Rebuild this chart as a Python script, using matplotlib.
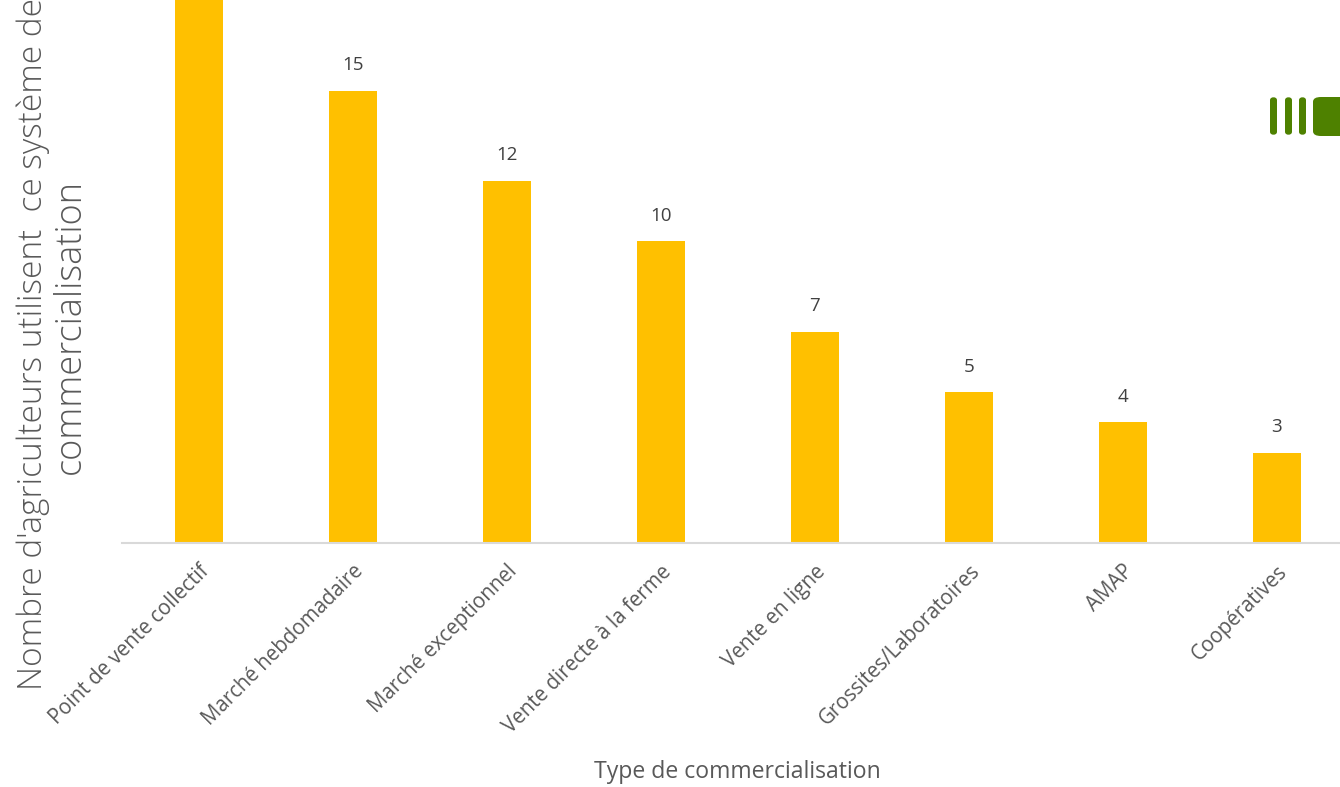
import matplotlib
matplotlib.use("Agg")
import matplotlib.pyplot as plt
from matplotlib.patches import FancyBboxPatch

categories = ["Point de vente collectif", "Marché hebdomadaire", "Marché exceptionnel",
              "Vente directe à la ferme", "Vente en ligne", "Grossites/Laboratoires",
              "AMAP", "Coopératives"]
values = [18, 15, 12, 10, 7, 5, 4, 3]
ylabel_lines = ["Nombre d'agriculteurs utilisent  ce système de", "commercialisation"]

W, H = 1340, 787
fig = plt.figure(figsize=(W / 100, H / 100), dpi=100)
ax = fig.add_axes([122 / W, (H - 543) / H, 1232 / W, 543 / H])

x = list(range(len(categories)))
ax.bar(x, values, width=0.31, color="#FFC000", zorder=2)
ax.set_xlim(-0.5, len(categories) - 0.5)
ax.set_ylim(0, 18)

for xi, v in zip(x, values):
    ax.annotate(str(v), (xi, v), xytext=(0, 12), textcoords="offset points",
                ha="center", va="bottom", fontsize=13.5, color="#404040",
                family="Open Sans")

for s in ["top", "right", "left"]:
    ax.spines[s].set_visible(False)
ax.spines["bottom"].set_color("#D9D9D9")
ax.spines["bottom"].set_linewidth(1.5)
ax.set_yticks([])
ax.set_xticks(x)
ax.set_xticklabels(categories, rotation=45, ha="right", rotation_mode="anchor",
                   fontsize=14.8, color="#595959", family="Open Sans")
ax.tick_params(axis="x", length=0, pad=13)

fig.text(737 / W, 1 - 772 / H, "Type de commercialisation", ha="center", va="center",
         fontsize=16.6, color="#595959", family="Open Sans")

fig.text(33 / W, 1 - 344 / H, ylabel_lines[0],
         rotation=90, ha="center", va="center", fontsize=24, color="#595959",
         family="Open Sans", fontweight="light")
fig.text(70 / W, 1 - 327 / H, ylabel_lines[1],
         rotation=90, ha="center", va="center", fontsize=26, color="#595959",
         family="Open Sans", fontweight="light")

green = "#4E8100"
for bx in [1270, 1285, 1299]:
    fig.patches.append(FancyBboxPatch((bx / W, 1 - 135 / H), 7 / W, 38 / H,
                                      boxstyle="round,pad=0,rounding_size=0.004",
                                      transform=fig.transFigure, facecolor=green,
                                      edgecolor="none"))
fig.patches.append(FancyBboxPatch((1313 / W, 1 - 136 / H), 40 / W, 39 / H,
                                  boxstyle="round,pad=0,rounding_size=0.006",
                                  transform=fig.transFigure, facecolor=green,
                                  edgecolor="none"))

fig.savefig("out.png", dpi=100)
